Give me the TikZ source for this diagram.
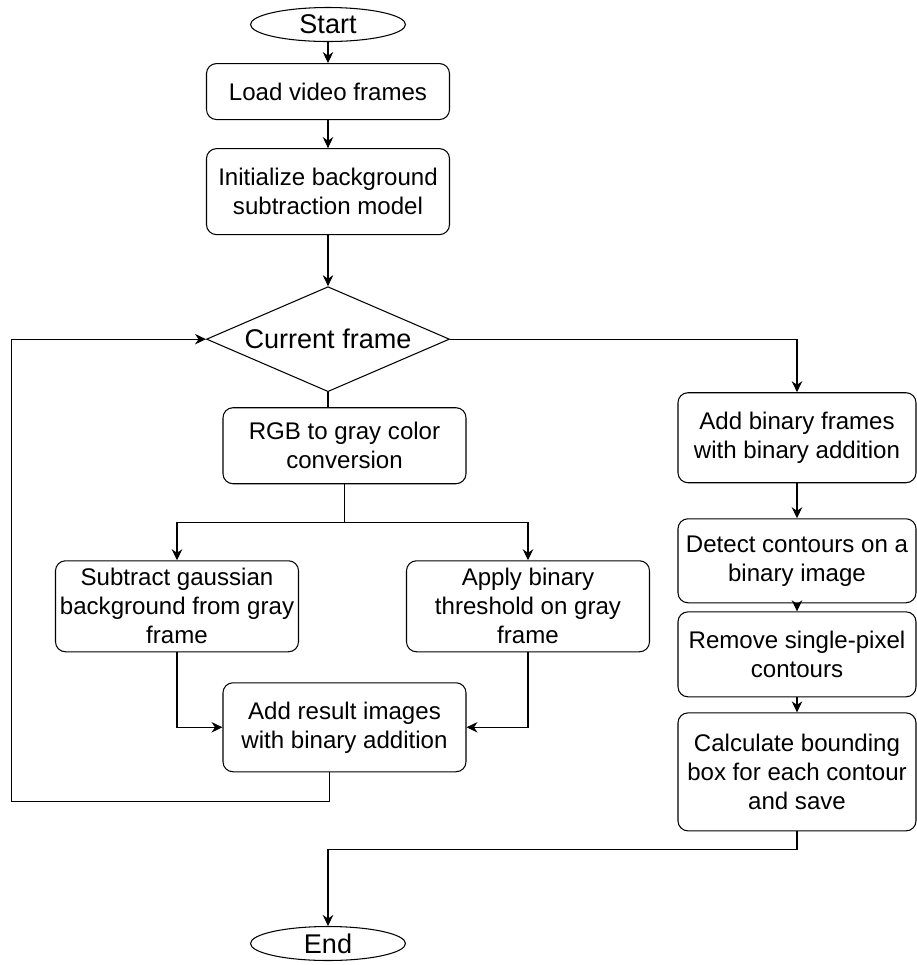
\documentclass[tikz,border=0pt]{standalone}
\usepackage{fontspec}
\setmainfont{Liberation Sans}
\usetikzlibrary{arrows.meta, positioning, shapes.geometric}

\begin{document}
\begin{tikzpicture}[
    box/.style={
        draw, rounded corners=0.2cm, minimum width=4.86cm, minimum height=1.76cm,
        align=center, inner sep=1pt, font=\fontsize{13.7}{16.5}\selectfont
    },
    term/.style={
        draw, ellipse, minimum width=3.1cm, minimum height=0.68cm, inner sep=0pt,
        font=\fontsize{15.4}{18}\selectfont
    },
    decision/.style={
        draw, diamond, aspect=2.3, minimum width=4.86cm, minimum height=2.1cm, inner sep=0pt,
        font=\fontsize{15.4}{18}\selectfont
    },
    arr/.style={-{Stealth[length=2.2mm, width=2.1mm]}},
    line width=0.6pt
]
\useasboundingbox (0,0) rectangle (18.34,-19.3);

% =============================================
% MAIN COLUMN
% =============================================
\node[term] (start) at (6.56,-0.49) {Start};
\node[box, minimum height=1.12cm, below=0.42cm of start] (load) {Load video frames};
\node[box, minimum height=1.72cm, below=0.56cm of load] (init) {Initialize background\\subtraction model};
\node[decision, below=1.02cm of init] (dec) {Current frame};
\node[box, minimum height=1.52cm, below=0.3cm of dec, xshift=0.33cm] (rgb) {RGB to gray color\\conversion};

% =============================================
% TWO BRANCHES
% =============================================
\node[box, minimum height=1.82cm, below=1.52cm of rgb, xshift=-3.35cm] (sub) {Subtract gaussian\\background from gray\\frame};
\node[box, minimum height=1.82cm, below=1.52cm of rgb, xshift=3.67cm] (apply) {Apply binary\\threshold on gray\\frame};
\node[box, minimum height=1.78cm, below=3.96cm of rgb] (add) {Add result images\\with binary addition};

% =============================================
% RIGHT COLUMN
% =============================================
\node[box, minimum width=4.76cm, minimum height=1.8cm, below=0cm of dec, xshift=9.38cm] (bin) {Add binary frames\\with binary addition};
\node[box, minimum width=4.76cm, minimum height=1.68cm, below=0.7cm of bin] (det) {Detect contours on a\\binary image};
\node[box, minimum width=4.76cm, minimum height=1.7cm, below=0.16cm of det] (rem) {Remove single-pixel\\contours};
\node[box, minimum width=4.76cm, minimum height=2.36cm, below=0.3cm of rem] (calc) {Calculate bounding\\box for each contour\\and save};

\node[term] (end) at (6.56,-18.87) {End};

% Arrows down the main column
\draw[arr] (start) -- (load);
\draw[arr] (load) -- (init);
\draw[arr] (init) -- (dec);
\draw (dec.south) -- (dec.south |- rgb.north);

% Split into the two branches
\draw[arr] (rgb.south) -- ++(0,-0.76) -| (sub.north);
\draw[arr] (rgb.south) -- ++(0,-0.76) -| (apply.north);
\draw[arr] (sub.south) |- (add.west);
\draw[arr] (apply.south) |- (add.east);

% Loop back to the next frame
\draw[arr] ([xshift=-0.3cm]add.south) -- ++(0,-0.58) -- ++(-6.36,0) |- (dec.west);

% Right column
\draw[arr] (dec.east) -| (bin.north);
\draw[arr] (bin) -- (det);
\draw[arr] (det) -- (rem);
\draw[arr] (rem) -- (calc);
\draw[arr] (calc.south) -- ++(0,-0.36) -| (end.north);

\end{tikzpicture}
\end{document}
